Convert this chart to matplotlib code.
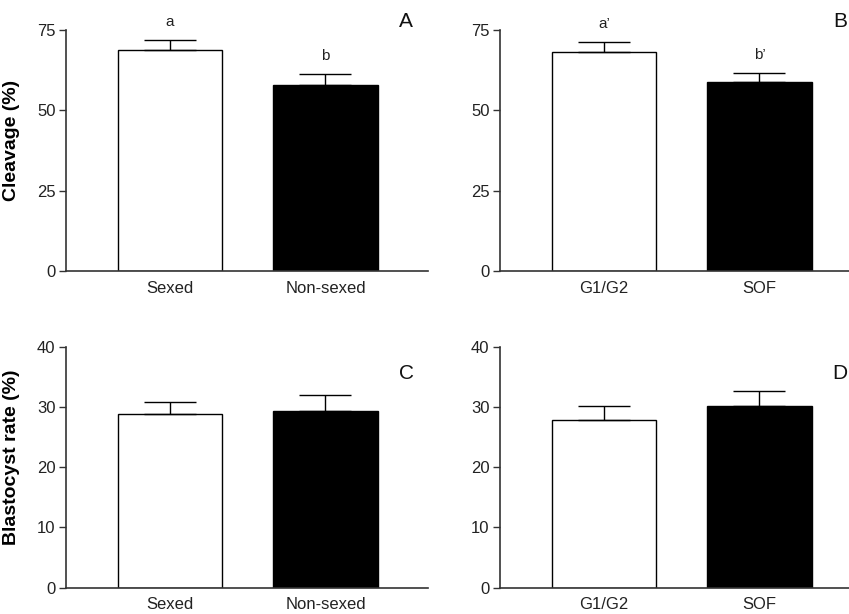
import matplotlib
matplotlib.use("Agg")
from matplotlib import pyplot as plt

plt.rcParams["font.family"] = ["Liberation Sans", "DejaVu Sans"]

# data
groups_sex = ["Sexed", "Non-sexed"]
groups_medium = ["G1/G2", "SOF"]

cleavage_sex = [68.9, 58.0]
cleavage_sex_err = [3.0, 3.4]
cleavage_medium = [68.2, 58.9]
cleavage_medium_err = [3.2, 2.8]

blast_sex = [28.8, 29.3]
blast_sex_err = [2.0, 2.7]
blast_medium = [27.8, 30.2]
blast_medium_err = [2.4, 2.4]

sig_sex = ["a", "b"]
sig_medium = ["a\u2019", "b\u2019"]

W, H = 849, 614
fig = plt.figure(figsize=(W / 100, H / 100), dpi=100)


def panel(rect, labels, values, errs, ymax, yticks, letter, letter_y,
          ylabel=None, sig=None):
    ax = fig.add_axes(rect)
    x = list(range(len(values)))
    ax.bar(x, values, width=0.67, color=["white", "black"],
           edgecolor="black", linewidth=1.0, zorder=2)
    ax.errorbar(x, values, yerr=[[0] * len(errs), errs], fmt="none",
                ecolor="black", elinewidth=1.0, capsize=18.7, capthick=1.0,
                zorder=3)
    ax.set_xlim(-0.67, 1.66)
    ax.set_ylim(0, ymax)
    ax.set_yticks(yticks)
    ax.set_xticks(x)
    ax.set_xticklabels(labels)
    for s in ["top", "right"]:
        ax.spines[s].set_visible(False)
    for s in ["left", "bottom"]:
        ax.spines[s].set_color("#333333")
        ax.spines[s].set_linewidth(1.2)
    ax.tick_params(axis="y", length=5, width=1.0, color="#333333",
                   labelsize=12, pad=2.5, labelcolor="#222222")
    ax.tick_params(axis="x", length=0, labelsize=12, pad=7,
                   labelcolor="#222222")
    if ylabel:
        ax.set_ylabel(ylabel, fontsize=14, fontweight="bold")
        ax.yaxis.set_label_coords(-0.127, 0.54)
    if sig:
        for xi, v, e, t in zip(x, values, errs, sig):
            ax.annotate(t, (xi, v + e), xytext=(0, 13),
                        textcoords="offset points", ha="center",
                        va="center", fontsize=11, color="#222222")
    # panel letter
    ax.text(1.52, letter_y, letter, ha="center", va="center",
            fontsize=15, color="#111111", clip_on=False)
    return ax


def rect(left, top, width=362, height=241):
    return [left / W, 1 - (top + height) / H, width / W, height / H]


panel(rect(66, 30), groups_sex, cleavage_sex, cleavage_sex_err, 75,
      [0, 25, 50, 75], "A", 77.5, ylabel="Cleavage (%)", sig=sig_sex)
panel(rect(500, 30), groups_medium, cleavage_medium, cleavage_medium_err, 75,
      [0, 25, 50, 75], "B", 77.5, sig=sig_medium)
panel(rect(66, 346.7), groups_sex, blast_sex, blast_sex_err, 40,
      [0, 10, 20, 30, 40], "C", 35.6, ylabel="Blastocyst rate (%)")
panel(rect(500, 346.7), groups_medium, blast_medium, blast_medium_err, 40,
      [0, 10, 20, 30, 40], "D", 35.6)

plt.savefig("out.png", dpi=100)
plt.close()
